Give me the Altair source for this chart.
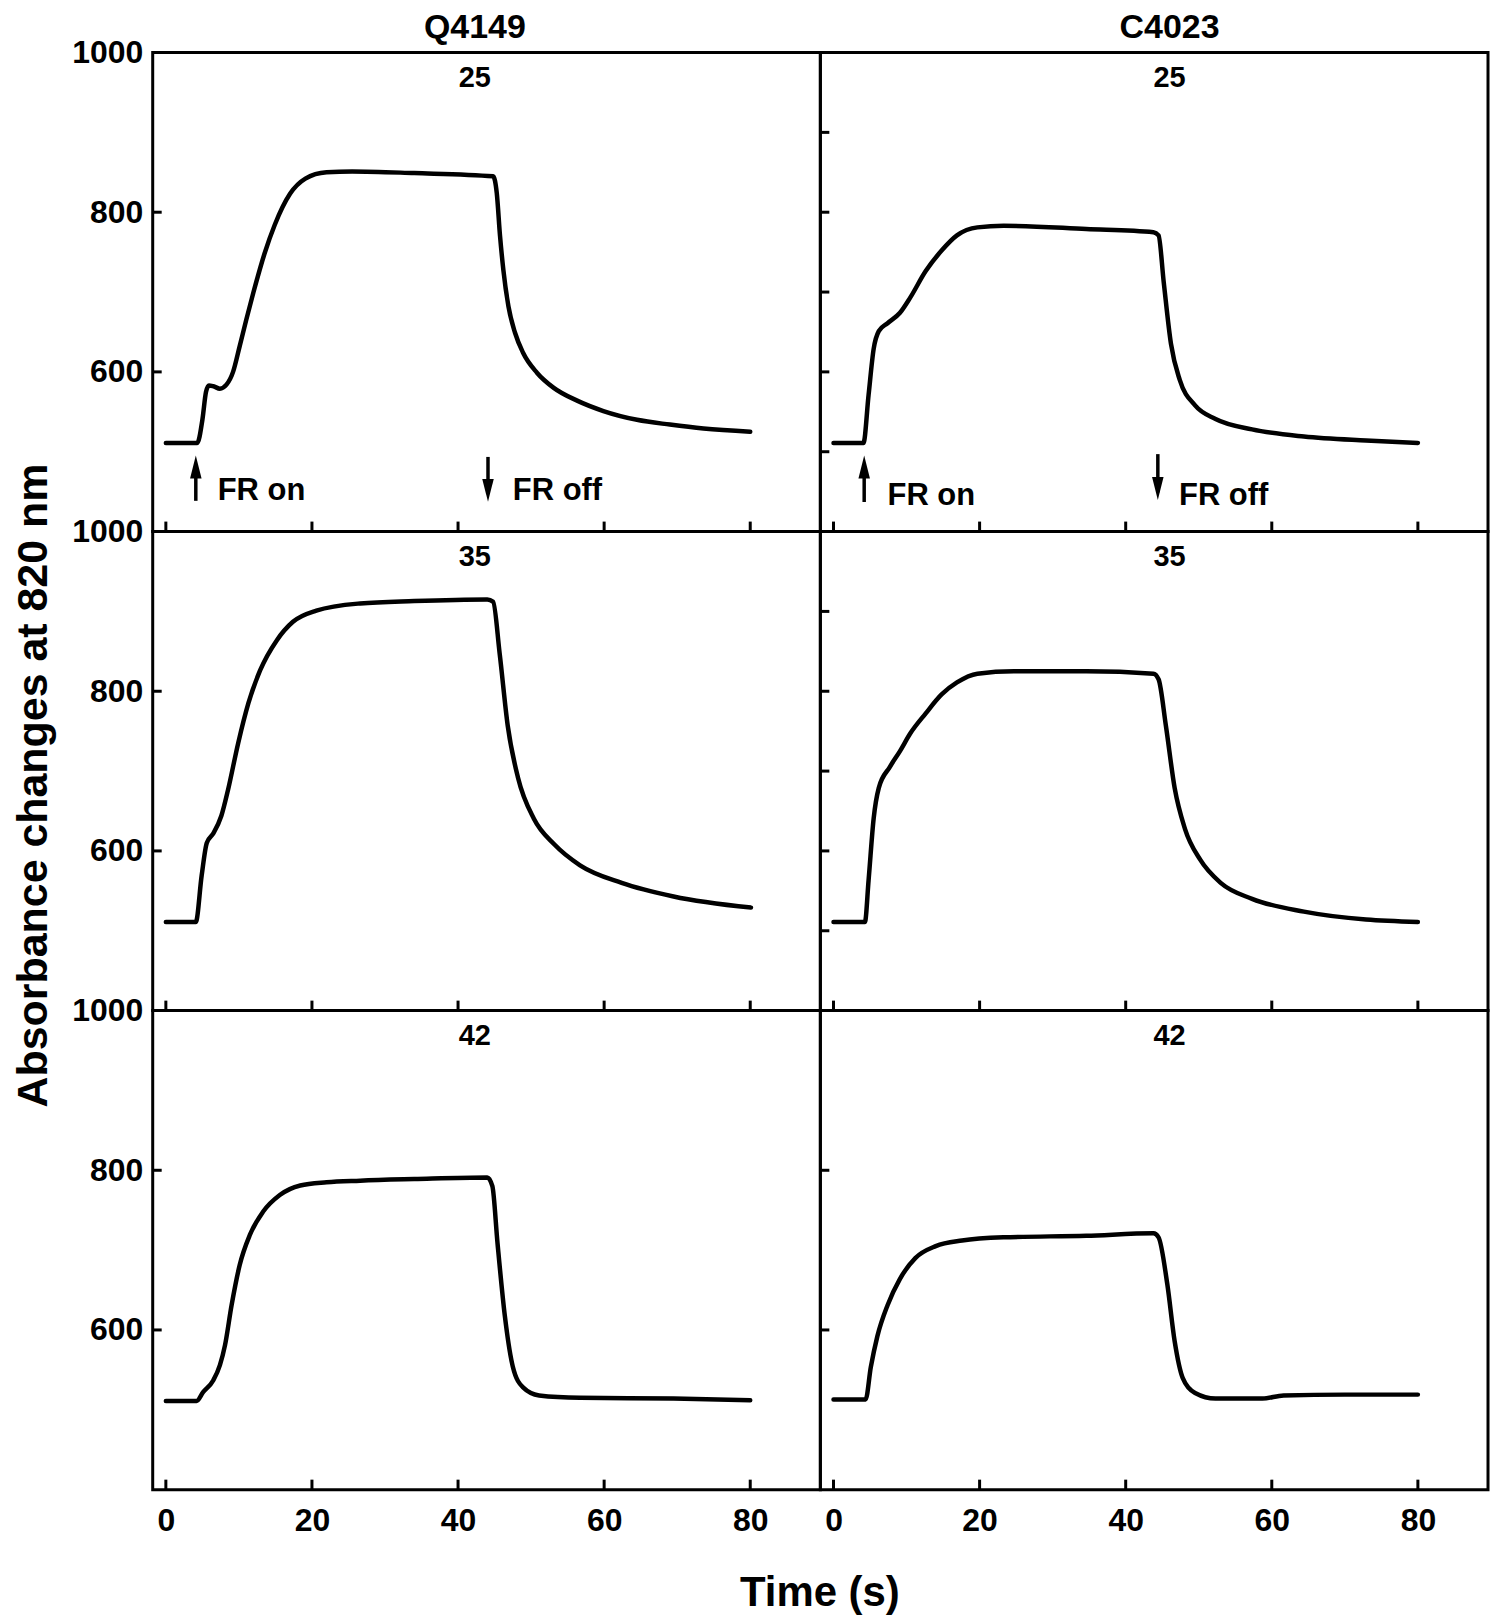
import altair as alt
import pandas as pd

FONT = "Liberation Sans"

# ---- curve data (time s, absorbance change) ----
q25_t = [0, 4.3, 5.0, 5.5, 5.9, 6.5, 7.4, 8.3, 9.2, 10.1, 11.0, 12.0, 13.5, 14.9, 17.0, 19.1, 22.0, 25.5, 34.0, 44.8,
         45.3, 45.75, 46.2, 46.9, 47.8, 48.9, 50.8, 53.1, 56.3, 59.9, 64.5, 69.0, 73.6, 80.0]
q25_v = [511, 511, 540, 575, 583, 582, 579, 584, 600, 632, 665, 700, 748, 784, 823, 842, 850, 851, 849, 845,
         824, 770, 728, 682, 649, 624, 599, 580, 564, 551, 540, 534, 529, 525]

c25_t = [0, 4.1, 4.8, 5.5, 6.2, 7.4, 9.1, 10.5, 12.6, 14.8, 16.9, 19.7, 23.3, 34.6, 43.8, 44.5, 45.2, 46.2, 47.4, 49.5, 52.3, 57.3, 64.4, 72.9, 80.0]
c25_v = [511, 511, 571, 629, 651, 661, 674, 693, 726, 752, 771, 781, 783, 779, 775, 771, 713, 635, 590, 558, 541, 528, 519, 514, 511]

q35_t = [0, 4.1, 4.9, 5.6, 6.5, 7.6, 8.5, 9.9, 11.3, 12.9, 15.2, 17.4, 20.6, 26.6, 34.0, 44.0, 44.8, 45.7, 46.8, 48.2, 50.4, 53.2, 56.7, 62.4, 69.5, 80.1]
q35_v = [511, 511, 569, 610, 622, 644, 676, 735, 785, 826, 864, 887, 901, 910, 913, 915, 912, 847, 757, 692, 640, 608, 582, 560, 543, 529]

c35_t = [0, 4.3, 4.8, 5.5, 6.2, 7.7, 9.1, 10.5, 12.6, 14.8, 16.9, 19.7, 24.7, 34.6, 43.8, 44.5, 45.5, 46.7, 48.1, 50.2, 53.0, 57.3, 64.4, 72.9, 80.0]
c35_v = [511, 511, 563, 641, 679, 705, 725, 747, 772, 796, 811, 822, 825, 825, 822, 815, 757, 679, 628, 589, 560, 540, 524, 514, 511]

q42_t = [0, 4.2, 5.1, 6.5, 7.4, 8.1, 9.0, 10.1, 11.5, 13.3, 15.6, 18.4, 22.0, 26.6, 34.0, 44.0, 44.7, 45.4, 46.4, 47.5, 48.9, 51.1, 56.7, 69.5, 80.0]
q42_v = [511, 511, 522, 537, 556, 581, 631, 681, 719, 748, 769, 781, 785, 787, 789, 791, 780, 709, 618, 554, 528, 518, 515, 514, 512]

c42_t = [0, 4.4, 5.1, 6.0, 7.4, 9.1, 11.2, 14.0, 17.6, 23.3, 34.6, 43.8, 44.5, 45.7, 46.7, 47.8, 49.5, 52.3, 58.7, 61.6, 70.0, 80.0]
c42_v = [513, 513, 553, 592, 631, 664, 690, 705, 712, 716, 718, 721, 716, 657, 586, 540, 521, 514, 514, 518, 519, 519]

# ---- labels / ticks ----
col_titles = ["Q4149", "C4023"]
row_labels = ["25", "35", "42"]
x_ticks = [0, 20, 40, 60, 80]
y_labels = [600, 800, 1000]
y_ticks_left = [600, 800]
y_ticks_right_fine = [500, 600, 700, 800, 900]
label_t = [42.3, 46.0]          # horizontal position of row labels / column titles
row_label_v = 968
col_title_v = 1030.5

# FR on / FR off annotations (row 1 only), per column
fr_on_t = [4.1, 4.2]
fr_off_t = [44.1, 44.4]
fr_on_text_t = [7.1, 7.4]
fr_off_text_t = [47.5, 47.3]
fr_text_v = [440, 433.5]
up_shaft = [(438.5, 484), (437, 484)]
up_head_v = [481, 481]
down_shaft = [(493.5, 447), (497, 449)]
down_head_v = [451.6, 454]

W, H = 669, 480
XS = alt.Scale(domain=[-1.8, 89.6], nice=False, zero=False)
YS = alt.Scale(domain=[400, 1000], nice=False, zero=False)

UP_PATH = "M0,-1L0.5,1L-0.5,1Z"
DOWN_PATH = "M0,1L0.5,-1L-0.5,-1Z"


def panel(t, v, row, col):
    if row == 2:
        x_axis = alt.Axis(values=x_ticks, labelFontSize=32, labelPadding=16, labelLineHeight=32,
                          title="Time (s)" if col == 0 else None,
                          titleFontSize=42, titlePadding=36, titleLineHeight=42,
                          titleX=668, titleAlign="center")
    else:
        x_axis = None
    if col == 0:
        y_axis = alt.Axis(values=y_labels, format="d", labelFontSize=32, labelPadding=10,
                          title="Absorbance changes at 820 nm" if row == 1 else None,
                          titleFontSize=43, titlePadding=16, titleY=254)
    else:
        y_axis = None
    X = alt.X("t:Q", scale=XS, axis=x_axis)
    Y = alt.Y("v:Q", scale=YS, axis=y_axis)
    Y2 = alt.Y2("v2:Q")

    line = alt.Chart(pd.DataFrame({"t": t, "v": v})).mark_line(
        color="black", strokeWidth=4.5, interpolate="monotone", strokeCap="round", strokeJoin="round"
    ).encode(x=X, y=Y)

    xt = alt.Chart(pd.DataFrame({"t": x_ticks})).mark_rule(color="black", strokeWidth=3).encode(
        x=X, y=alt.value(H), y2=alt.value(H - 10))

    if col == 1 and row < 2:
        yt_vals = y_ticks_right_fine
    else:
        yt_vals = y_ticks_left
    yt = alt.Chart(pd.DataFrame({"v": yt_vals})).mark_rule(color="black", strokeWidth=3).encode(
        y=Y, x=alt.value(0), x2=alt.value(9))

    lab = alt.Chart(pd.DataFrame({"t": [label_t[col]], "v": [row_label_v], "txt": [row_labels[row]]})).mark_text(
        font=FONT, fontSize=29, fontWeight="bold", align="center", baseline="middle", color="black"
    ).encode(x=X, y=Y, text="txt:N")

    layers = [line, xt, yt, lab]

    if row == 0:
        ctitle = alt.Chart(pd.DataFrame({"t": [label_t[col]], "v": [col_title_v], "txt": [col_titles[col]]})).mark_text(
            font=FONT, fontSize=34, lineHeight=34, fontWeight="bold", align="center", baseline="middle", color="black"
        ).encode(x=X, y=Y, text="txt:N")
        shafts = alt.Chart(pd.DataFrame({
            "t": [fr_on_t[col], fr_off_t[col]],
            "v": [up_shaft[col][0], down_shaft[col][0]],
            "v2": [up_shaft[col][1], down_shaft[col][1]],
        })).mark_rule(color="black", strokeWidth=3.5).encode(x=X, y=Y, y2=Y2)
        up = alt.Chart(pd.DataFrame({"t": [fr_on_t[col]], "v": [up_head_v[col]]})).mark_point(
            shape=UP_PATH, filled=True, size=530, color="black", opacity=1, strokeWidth=0
        ).encode(x=X, y=Y)
        down = alt.Chart(pd.DataFrame({"t": [fr_off_t[col]], "v": [down_head_v[col]]})).mark_point(
            shape=DOWN_PATH, filled=True, size=530, color="black", opacity=1, strokeWidth=0
        ).encode(x=X, y=Y)
        frtxt = alt.Chart(pd.DataFrame({
            "t": [fr_on_text_t[col], fr_off_text_t[col]],
            "v": [fr_text_v[col], fr_text_v[col]],
            "txt": ["FR on", "FR off"],
        })).mark_text(font=FONT, fontSize=31, fontWeight="bold", align="left", baseline="alphabetic",
                      color="black").encode(x=X, y=Y, text="txt:N")
        layers += [ctitle, shafts, up, down, frtxt]

    return alt.layer(*layers).properties(width=W, height=H)


data = [[(q25_t, q25_v), (c25_t, c25_v)],
        [(q35_t, q35_v), (c35_t, c35_v)],
        [(q42_t, q42_v), (c42_t, c42_v)]]

panels = []
for r in range(3):
    for c in range(2):
        panels.append(panel(*data[r][c], r, c))

chart = alt.concat(*panels, columns=2, spacing=0, bounds="flush").properties(
    padding={"left": 3, "top": 0, "right": 2, "bottom": 0}
).configure_view(
    stroke="black", strokeWidth=3
).configure_axis(
    labelFont=FONT, titleFont=FONT, labelFontWeight="bold", titleFontWeight="bold",
    labelColor="black", titleColor="black", grid=False, domain=False, ticks=False, tickSize=0
)

chart.save("out.html", embed_options={"renderer": "svg", "actions": False})
